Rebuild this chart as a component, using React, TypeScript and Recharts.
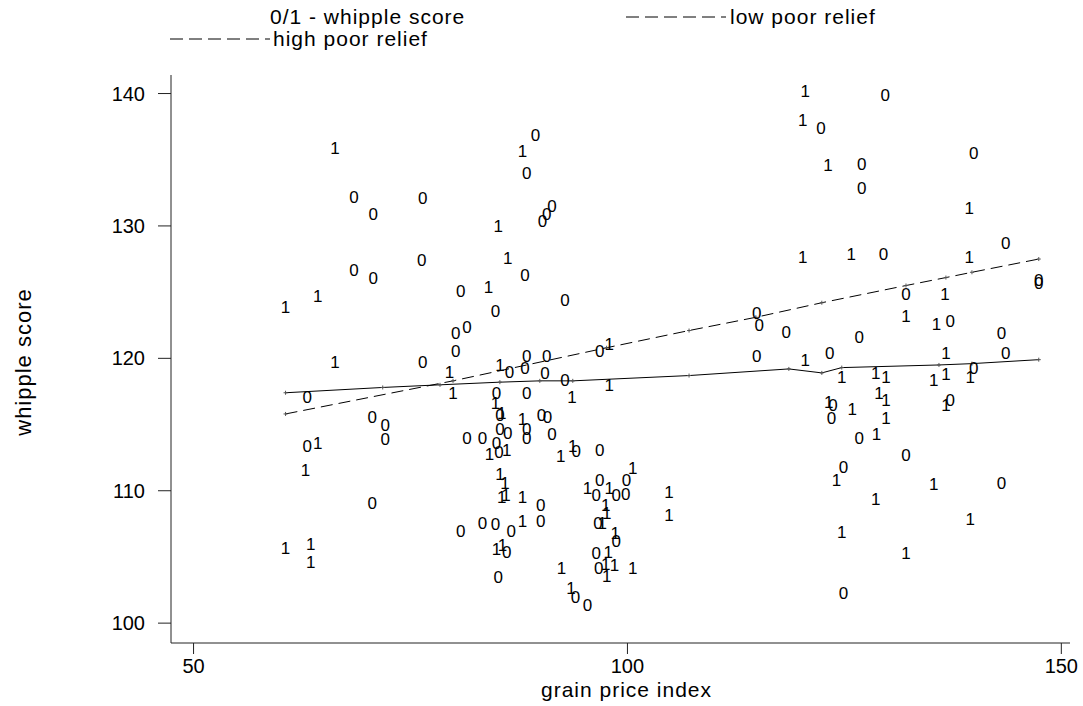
import React from 'react';
import { ScatterChart, Scatter, XAxis, YAxis, Label } from 'recharts';

const FONT = '"Liberation Sans", Arial, Helvetica, sans-serif';

// axis setup
const xTicks = [50, 100, 150];
const yTicks = [100, 110, 120, 130, 140];
const xDomain: [number, number] = [47.4, 151.0];
const yDomain: [number, number] = [98.5, 141.4];
const xTitle = 'grain price index';
const yTitle = 'whipple score';

// legend labels
const scatterLegend = '0/1 - whipple score';
const lowLegend = 'low poor relief';
const highLegend = 'high poor relief';

// scatter points labelled "0"
const zeroPoints: [number, number][] = [
  [68.5, 132.2], [70.7, 130.9], [76.4, 132.1], [89.4, 136.9], [88.4, 134.0], [90.2, 130.4], [90.7, 130.9], [91.3, 131.5],
  [68.5, 126.7], [70.7, 126.1], [76.3, 127.4], [88.2, 126.3], [80.8, 125.1], [84.8, 123.6], [80.2, 121.9], [81.5, 122.4],
  [80.2, 120.6], [76.4, 119.7], [86.4, 119.0], [88.2, 119.3], [88.4, 120.2], [90.7, 120.2], [90.5, 118.9], [92.8, 124.4],
  [96.8, 120.6], [63.1, 117.1], [84.9, 117.4], [88.4, 117.4], [70.6, 115.6], [72.1, 115.0], [72.1, 113.9], [63.1, 113.4],
  [70.6, 109.1], [85.3, 115.7], [90.1, 115.7], [90.8, 115.6], [85.3, 114.7], [86.2, 114.4], [88.4, 114.7], [88.4, 114.0],
  [91.3, 114.3], [81.5, 114.0], [83.3, 114.0], [84.9, 113.6], [85.2, 112.9], [90.0, 108.9], [83.3, 107.6], [84.8, 107.5],
  [86.6, 107.0], [80.8, 107.0], [90.0, 107.7], [86.1, 105.4], [85.1, 103.5], [92.8, 118.4], [94.1, 113.0], [96.8, 113.1],
  [96.8, 110.8], [96.4, 109.7], [98.7, 109.7], [99.8, 109.8], [99.9, 110.8], [96.6, 107.6], [98.7, 106.2], [96.4, 105.3],
  [96.7, 104.2], [94.0, 102.0], [95.4, 101.4],
  [129.7, 139.9], [122.3, 137.4], [127.0, 134.7], [127.0, 132.9], [139.9, 135.5], [129.5, 127.9], [143.6, 128.7],
  [147.4, 125.9], [147.4, 125.7], [132.1, 124.9], [114.9, 123.4], [115.2, 122.5], [118.3, 122.0], [137.2, 122.8],
  [126.7, 121.6], [143.1, 121.9], [114.9, 120.2], [123.3, 120.4], [143.6, 120.4], [139.9, 119.3], [123.7, 116.5],
  [123.5, 115.5], [137.2, 116.9], [126.7, 114.0], [132.1, 112.7], [124.9, 111.8], [143.1, 110.6], [124.9, 102.3],
];

// scatter points labelled "1"
const onePoints: [number, number][] = [
  [66.3, 135.9], [87.9, 135.7], [85.1, 130.0], [86.2, 127.6], [84.0, 125.4], [64.3, 124.7], [60.6, 123.9], [66.3, 119.7],
  [79.5, 119.0], [85.3, 119.5], [97.9, 121.1], [79.9, 117.4], [84.8, 116.6], [64.3, 113.6], [62.9, 111.6], [60.6, 105.7],
  [63.5, 106.0], [63.5, 104.6], [85.5, 115.9], [87.9, 115.4], [84.1, 112.8], [86.1, 113.1], [85.3, 111.3], [85.9, 110.6],
  [85.5, 109.5], [86.0, 109.7], [87.9, 109.5], [87.9, 107.7], [84.9, 105.6], [85.6, 105.9], [93.6, 117.1], [97.9, 118.0],
  [92.3, 112.6], [93.7, 113.4], [100.6, 111.7], [95.4, 110.2], [97.9, 110.2], [104.8, 109.9], [97.5, 108.9], [97.6, 108.3],
  [97.1, 107.6], [104.8, 108.2], [98.6, 106.8], [97.8, 105.4], [97.5, 104.5], [97.6, 103.6], [98.5, 104.4], [100.6, 104.2],
  [92.4, 104.2], [93.5, 102.7],
  [120.5, 140.2], [120.2, 138.0], [123.1, 134.6], [139.4, 131.4], [120.2, 127.7], [125.8, 127.9], [139.4, 127.7],
  [136.6, 124.9], [132.1, 123.2], [135.6, 122.6], [120.5, 119.9], [136.7, 120.4], [124.7, 118.6], [128.6, 118.9],
  [129.8, 118.6], [135.3, 118.4], [136.7, 118.8], [139.5, 118.6], [129.0, 117.4], [129.8, 116.9], [123.2, 116.7],
  [125.9, 116.2], [129.8, 115.5], [136.7, 116.5], [128.7, 114.3], [124.1, 110.8], [135.3, 110.5], [128.6, 109.4],
  [139.5, 107.9], [124.7, 106.9], [132.1, 105.3],
];

// fitted line: low poor relief (dashed)
const lowLine: [number, number][] = [
  [60.6, 115.8], [79.9, 118.3], [97.6, 120.8], [107.1, 122.1], [114.8, 123.1], [122.4, 124.2], [132.1, 125.5],
  [136.7, 126.1], [139.7, 126.5], [147.4, 127.5],
];

// fitted line: high poor relief (solid)
const highLine: [number, number][] = [
  [60.6, 117.4], [71.8, 117.8], [78.4, 118.0], [85.3, 118.2], [89.9, 118.3], [93.7, 118.3], [107.1, 118.7],
  [118.6, 119.2], [122.4, 118.9], [124.7, 119.3], [135.9, 119.5], [139.7, 119.6], [147.4, 119.9],
];

const toData = (arr: [number, number][]) => arr.map(([x, y]) => ({ x, y }));

const textMarker = (label: string) => (props: any) => {
  const { cx, cy } = props;
  if (cx == null || cy == null) return <g />;
  return (
    <text x={cx} y={cy} dy="0.36em" textAnchor="middle" fontSize={17} fontFamily={FONT} fill="#000">
      {label}
    </text>
  );
};

const plusMarker = (props: any) => {
  const { cx, cy } = props;
  if (cx == null || cy == null) return <g />;
  return <path d={`M${cx - 2},${cy}h4M${cx},${cy - 2}v4`} stroke="#555" strokeWidth={1} fill="none" />;
};

const XTitle = (props: any) => {
  const vb = props.viewBox || { x: 171, y: 643, width: 899, height: 63 };
  return (
    <text x={vb.x + vb.width / 2 + 6} y={vb.y + 54} textAnchor="middle" fontSize={21} letterSpacing={1}
      fontFamily={FONT} fill="#000">
      {xTitle}
    </text>
  );
};

const YTitle = (props: any) => {
  const vb = props.viewBox || { x: 0, y: 75, width: 171, height: 568 };
  const cy = vb.y + vb.height / 2 + 3;
  return (
    <text transform={`translate(${vb.x + 31},${cy}) rotate(-90)`} textAnchor="middle" fontSize={22}
      letterSpacing={1} fontFamily={FONT} fill="#000">
      {yTitle}
    </text>
  );
};

const LegendOverlay = () => {
  const txt = { fontSize: 21, letterSpacing: 1, fontFamily: FONT, fill: '#000' } as any;
  return (
    <svg width={1083} height={60} style={{ position: 'absolute', left: 0, top: 0 }}>
      <text x={270} y={24} {...txt}>{scatterLegend}</text>
      <line x1={626} y1={17} x2={726} y2={17} stroke="#000" strokeWidth={1} strokeDasharray="13 6" />
      <text x={730} y={24} {...txt}>{lowLegend}</text>
      <line x1={170} y1={39} x2={270} y2={39} stroke="#000" strokeWidth={1} strokeDasharray="13 6" />
      <text x={273} y={46} {...txt}>{highLegend}</text>
    </svg>
  );
};

export default function App() {
  const tickStyle = { fill: '#000', fontSize: 20, fontFamily: FONT };
  return (
    <div style={{ position: 'absolute', left: 0, top: 0, width: 1083, height: 706, background: '#fff' }}>
      <ScatterChart width={1083} height={706} margin={{ top: 75, right: 13, bottom: 0, left: 0 }}>
        <XAxis type="number" dataKey="x" domain={xDomain} ticks={xTicks} interval={0} allowDataOverflow
          height={63} tickSize={11} tickMargin={5} stroke="#222" tick={tickStyle}>
          <Label content={XTitle} />
        </XAxis>
        <YAxis type="number" dataKey="y" domain={yDomain} ticks={yTicks} interval={0} allowDataOverflow
          width={171} tickSize={13} tickMargin={13} stroke="#222" tick={tickStyle}>
          <Label content={YTitle} />
        </YAxis>
        <Scatter name={lowLegend} data={toData(lowLine)} line={{ stroke: '#000', strokeWidth: 1, strokeDasharray: '12 6' }}
          shape={plusMarker} isAnimationActive={false} />
        <Scatter name={highLegend} data={toData(highLine)} line={{ stroke: '#000', strokeWidth: 1 }}
          shape={plusMarker} isAnimationActive={false} />
        <Scatter name="0" data={toData(zeroPoints)} shape={textMarker('0')} isAnimationActive={false} />
        <Scatter name="1" data={toData(onePoints)} shape={textMarker('1')} isAnimationActive={false} />
      </ScatterChart>
      <LegendOverlay />
    </div>
  );
}
